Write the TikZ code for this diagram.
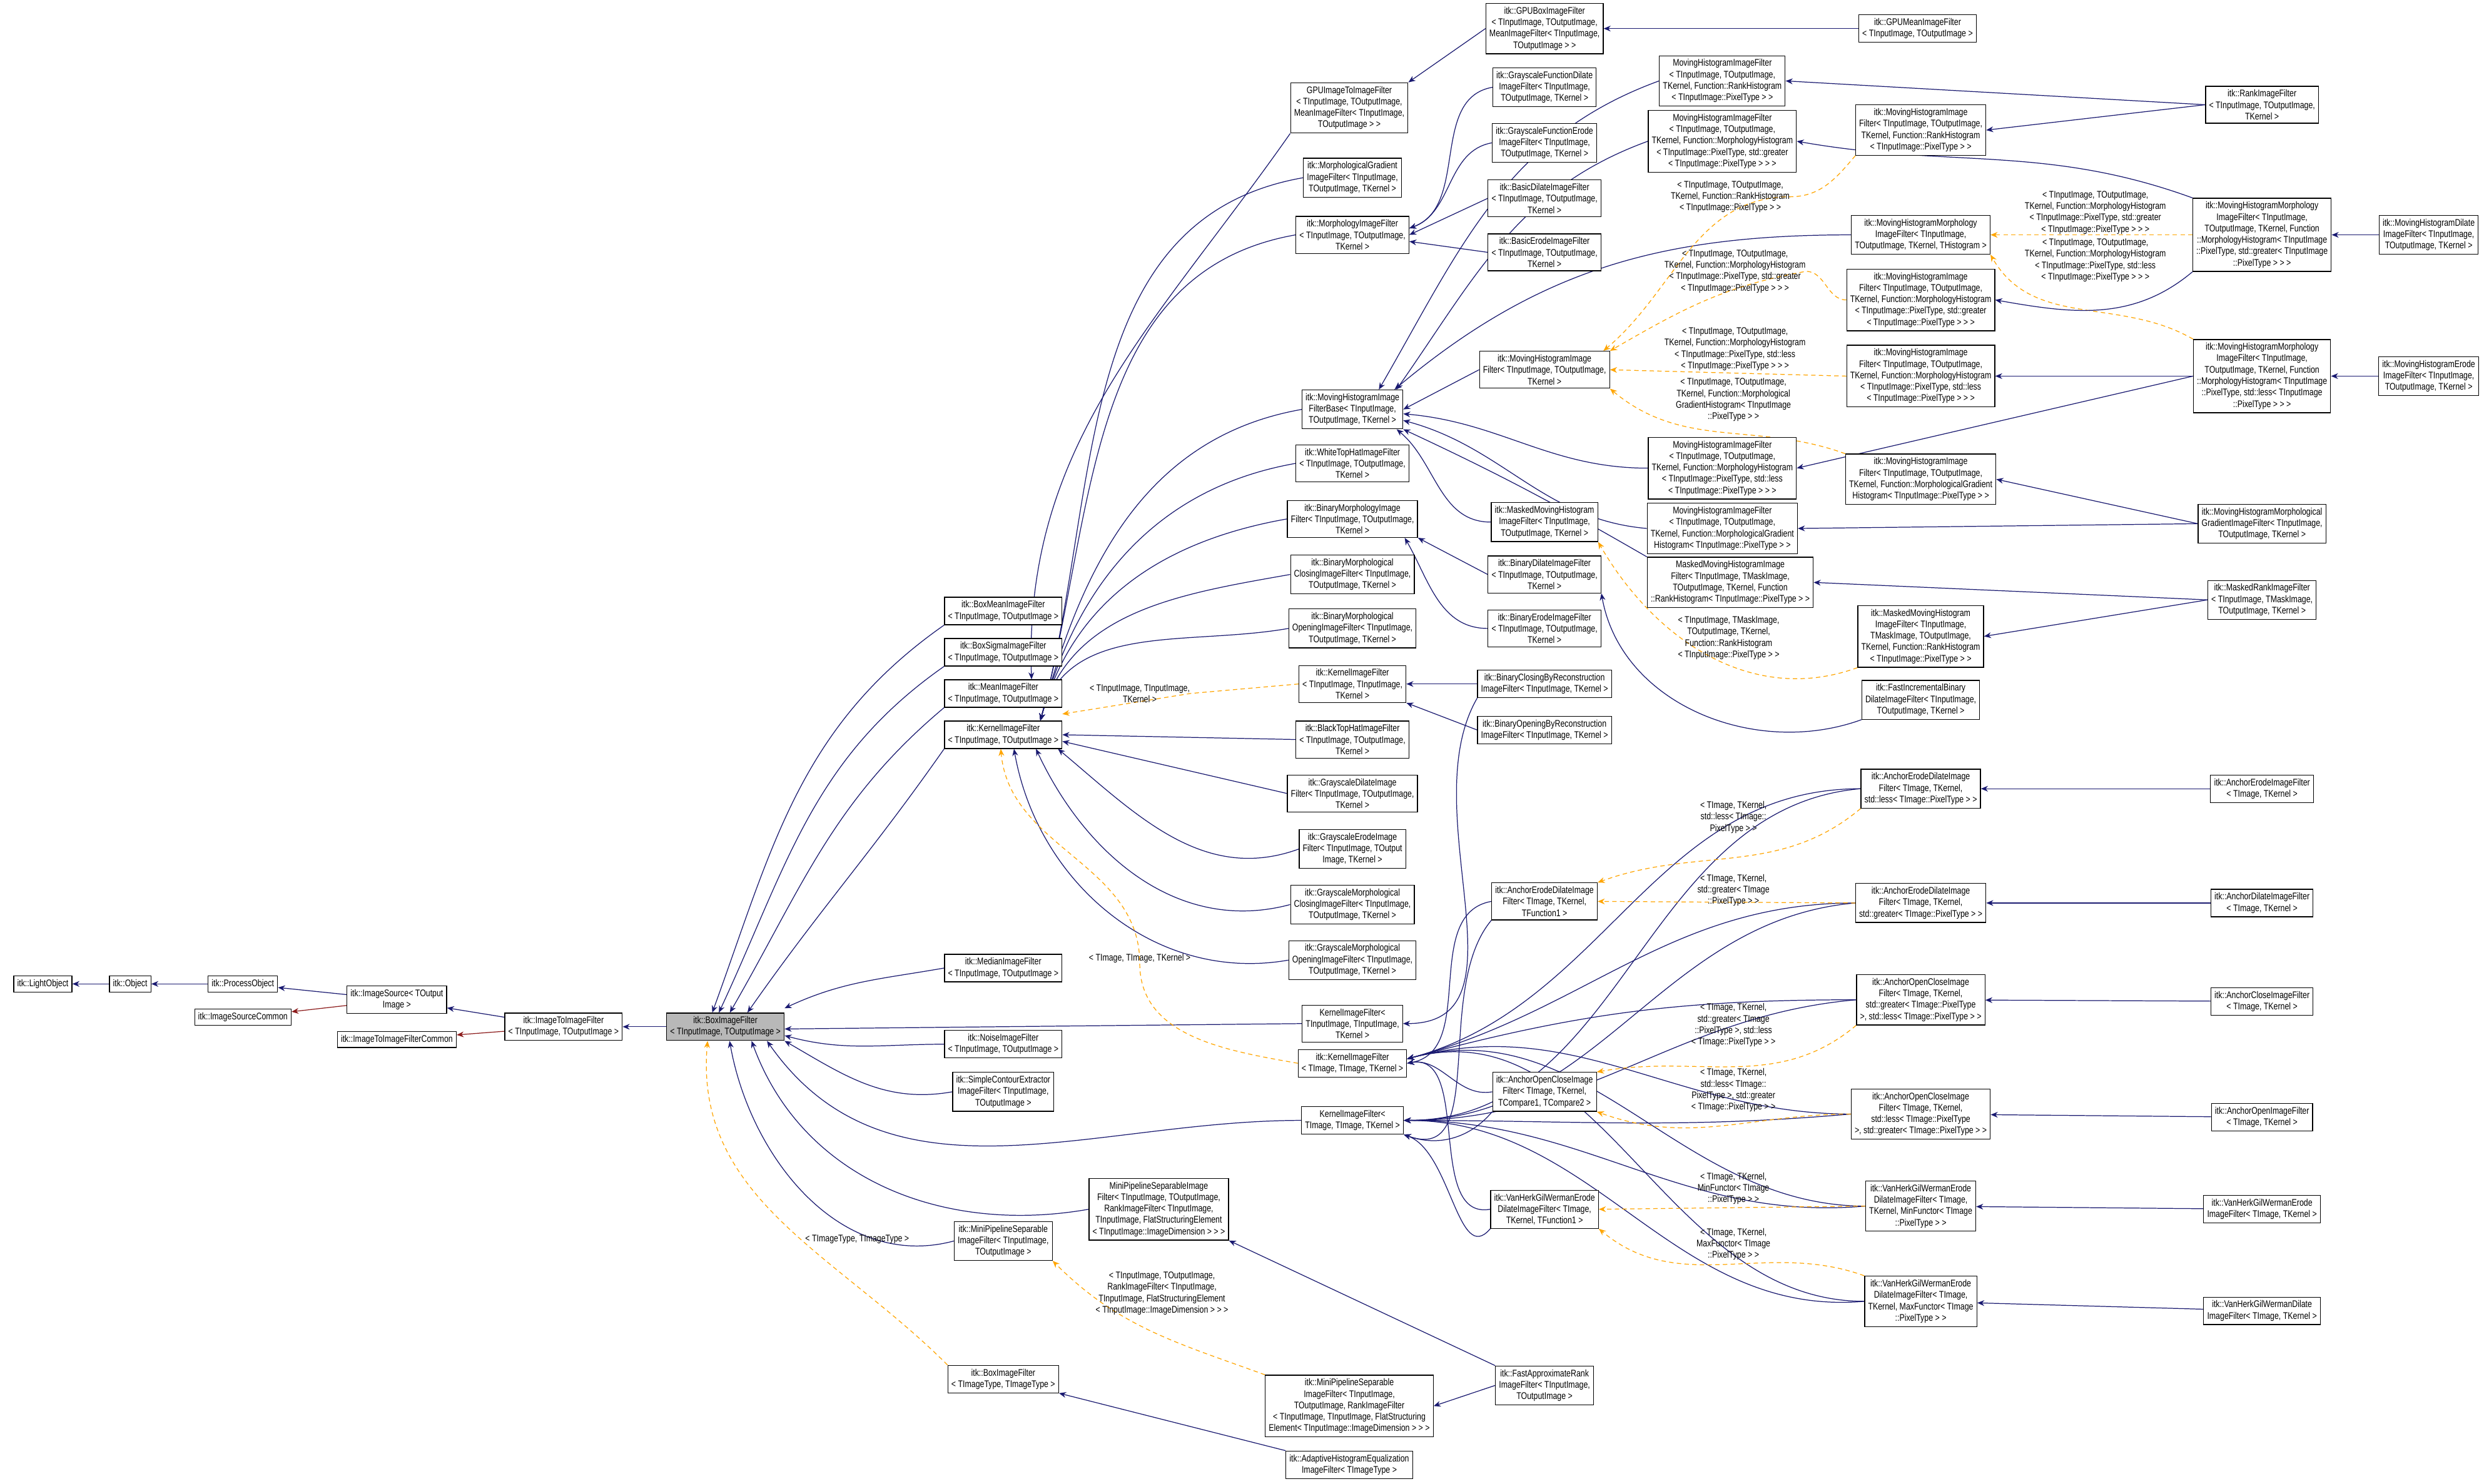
\documentclass[tikz,border=0pt]{standalone}
\usepackage{fontspec}
\setmainfont{Liberation Sans}[FakeStretch=0.8]
\usetikzlibrary{arrows.meta}
\definecolor{navy}{HTML}{191970}
\definecolor{torange}{HTML}{FFA500}
\definecolor{dred}{HTML}{8B1A1A}
\pgfdeclarelayer{bg}
\pgfsetlayers{bg,main}
\tikzset{
 bx/.style={draw=black,fill=white,line width=0.35pt,align=center,inner sep=1.6pt,font=\fontsize{4.4}{5.2}\selectfont},
 gbx/.style={bx,fill=black!28},
 lb/.style={align=center,inner sep=0pt,font=\fontsize{4.4}{5.2}\selectfont},
 ed/.style={navy,line width=0.35pt,-{Stealth[length=3.2pt,width=2.6pt]}},
 rd/.style={dred,line width=0.35pt,-{Stealth[length=3.2pt,width=2.6pt]}},
 tp/.style={torange,line width=0.35pt,dashed,dash pattern=on 2pt off 1.5pt,-{Stealth[length=3.2pt,width=2.6pt]}},
}
\begin{document}
\begin{tikzpicture}[x=0.25376mm,y=-0.25376mm]
\begin{pgfonlayer}{bg}
\fill[white] (0,0) rectangle (1568,935);
\end{pgfonlayer}
\useasboundingbox (0,0) rectangle (1568,935);
% left chain
\node[bx] (lo) at (27,620) {itk::LightObject};
\node[bx] (ob) at (82,620) {itk::Object};
\node[bx] (po) at (153,620) {itk::ProcessObject};
\node[bx] (isc) at (153,641) {itk::ImageSourceCommon};
\node[bx] (is) at (250,630) {itk::ImageSource< TOutput\\Image >};
\node[bx] (itic) at (250,655) {itk::ImageToImageFilterCommon};
\node[bx] (iti) at (355,647) {itk::ImageToImageFilter\\< TInputImage, TOutputImage >};
\node[gbx] (box) at (457,647) {itk::BoxImageFilter\\< TInputImage, TOutputImage >};
% column C
\node[bx] (bmean) at (632,385) {itk::BoxMeanImageFilter\\< TInputImage, TOutputImage >};
\node[bx] (bsig) at (632,411) {itk::BoxSigmaImageFilter\\< TInputImage, TOutputImage >};
\node[bx] (mean) at (632,437) {itk::MeanImageFilter\\< TInputImage, TOutputImage >};
\node[bx] (kif) at (632,463) {itk::KernelImageFilter\\< TInputImage, TOutputImage >};
\node[bx] (med) at (632,610) {itk::MedianImageFilter\\< TInputImage, TOutputImage >};
\node[bx] (noise) at (632,658) {itk::NoiseImageFilter\\< TInputImage, TOutputImage >};
\node[bx] (sce) at (632,688) {itk::SimpleContourExtractor\\ImageFilter< TInputImage,\\TOutputImage >};
\node[bx] (mps) at (632,782) {itk::MiniPipelineSeparable\\ImageFilter< TInputImage,\\TOutputImage >};
\node[bx] (bxt) at (632,869) {itk::BoxImageFilter\\< TImageType, TImageType >};
% column D
\node[bx] (gpuiti) at (850,68) {GPUImageToImageFilter\\< TInputImage, TOutputImage,\\MeanImageFilter< TInputImage,\\TOutputImage > >};
\node[bx] (mgrad) at (852,112) {itk::MorphologicalGradient\\ImageFilter< TInputImage,\\TOutputImage, TKernel >};
\node[bx] (morph) at (852,148) {itk::MorphologyImageFilter\\< TInputImage, TOutputImage,\\TKernel >};
\node[bx] (mhb) at (852,258) {itk::MovingHistogramImage\\FilterBase< TInputImage,\\TOutputImage, TKernel >};
\node[bx] (wth) at (852,292) {itk::WhiteTopHatImageFilter\\< TInputImage, TOutputImage,\\TKernel >};
\node[bx] (bmi) at (852,327) {itk::BinaryMorphologyImage\\Filter< TInputImage, TOutputImage,\\TKernel >};
\node[bx] (bmc) at (852,362) {itk::BinaryMorphological\\ClosingImageFilter< TInputImage,\\TOutputImage, TKernel >};
\node[bx] (bmo) at (852,396) {itk::BinaryMorphological\\OpeningImageFilter< TInputImage,\\TOutputImage, TKernel >};
\node[bx] (kii) at (852,431) {itk::KernelImageFilter\\< TInputImage, TInputImage,\\TKernel >};
\node[bx] (bth) at (852,466) {itk::BlackTopHatImageFilter\\< TInputImage, TOutputImage,\\TKernel >};
\node[bx] (gdil) at (852,500) {itk::GrayscaleDilateImage\\Filter< TInputImage, TOutputImage,\\TKernel >};
\node[bx] (gero) at (852,535) {itk::GrayscaleErodeImage\\Filter< TInputImage, TOutput\\Image, TKernel >};
\node[bx] (gmc) at (852,570) {itk::GrayscaleMorphological\\ClosingImageFilter< TInputImage,\\TOutputImage, TKernel >};
\node[bx] (gmo) at (852,605) {itk::GrayscaleMorphological\\OpeningImageFilter< TInputImage,\\TOutputImage, TKernel >};
\node[bx] (kiin) at (852,645) {KernelImageFilter<\\TInputImage, TInputImage,\\TKernel >};
\node[bx] (kit) at (852,670) {itk::KernelImageFilter\\< TImage, TImage, TKernel >};
\node[bx] (kitn) at (852,706) {KernelImageFilter<\\TImage, TImage, TKernel >};
\node[bx] (mpsi) at (730,762) {MiniPipelineSeparableImage\\Filter< TInputImage, TOutputImage,\\RankImageFilter< TInputImage,\\TInputImage, FlatStructuringElement\\< TInputImage::ImageDimension > > >};
\node[bx] (mpsr) at (850,886) {itk::MiniPipelineSeparable\\ImageFilter< TInputImage,\\TOutputImage, RankImageFilter\\< TInputImage, TInputImage, FlatStructuring\\Element< TInputImage::ImageDimension > > >};
\node[bx] (ahe) at (850,923) {itk::AdaptiveHistogramEqualization\\ImageFilter< TImageType >};
% column E
\node[bx] (gpubox) at (973,18) {itk::GPUBoxImageFilter\\< TInputImage, TOutputImage,\\MeanImageFilter< TInputImage,\\TOutputImage > >};
\node[bx] (gfd) at (973,55) {itk::GrayscaleFunctionDilate\\ImageFilter< TInputImage,\\TOutputImage, TKernel >};
\node[bx] (gfe) at (973,90) {itk::GrayscaleFunctionErode\\ImageFilter< TInputImage,\\TOutputImage, TKernel >};
\node[bx] (bdil) at (973,125) {itk::BasicDilateImageFilter\\< TInputImage, TOutputImage,\\TKernel >};
\node[bx] (bero) at (973,159) {itk::BasicErodeImageFilter\\< TInputImage, TOutputImage,\\TKernel >};
\node[bx] (mhif) at (973,233) {itk::MovingHistogramImage\\Filter< TInputImage, TOutputImage,\\TKernel >};
\node[bx] (mmh) at (973,329) {itk::MaskedMovingHistogram\\ImageFilter< TInputImage,\\TOutputImage, TKernel >};
\node[bx] (bdi) at (973,362) {itk::BinaryDilateImageFilter\\< TInputImage, TOutputImage,\\TKernel >};
\node[bx] (ber) at (973,396) {itk::BinaryErodeImageFilter\\< TInputImage, TOutputImage,\\TKernel >};
\node[bx] (bcr) at (973,431) {itk::BinaryClosingByReconstruction\\ImageFilter< TInputImage, TKernel >};
\node[bx] (bor) at (973,460) {itk::BinaryOpeningByReconstruction\\ImageFilter< TInputImage, TKernel >};
\node[bx] (aed) at (973,568) {itk::AnchorErodeDilateImage\\Filter< TImage, TKernel,\\TFunction1 >};
\node[bx] (aoc) at (973,688) {itk::AnchorOpenCloseImage\\Filter< TImage, TKernel,\\TCompare1, TCompare2 >};
\node[bx] (vhg) at (973,762) {itk::VanHerkGilWermanErode\\DilateImageFilter< TImage,\\TKernel, TFunction1 >};
\node[bx] (far) at (973,873) {itk::FastApproximateRank\\ImageFilter< TInputImage,\\TOutputImage >};
% column F
\node[bx] (frank) at (1085,51) {MovingHistogramImageFilter\\< TInputImage, TOutputImage,\\TKernel, Function::RankHistogram\\< TInputImage::PixelType > >};
\node[bx] (fgr) at (1085,89) {MovingHistogramImageFilter\\< TInputImage, TOutputImage,\\TKernel, Function::MorphologyHistogram\\< TInputImage::PixelType, std::greater\\< TInputImage::PixelType > > >};
\node[bx] (fle) at (1085,295) {MovingHistogramImageFilter\\< TInputImage, TOutputImage,\\TKernel, Function::MorphologyHistogram\\< TInputImage::PixelType, std::less\\< TInputImage::PixelType > > >};
\node[bx] (fmg) at (1085,333) {MovingHistogramImageFilter\\< TInputImage, TOutputImage,\\TKernel, Function::MorphologicalGradient\\Histogram< TInputImage::PixelType > >};
\node[bx] (fmm) at (1090,367) {MaskedMovingHistogramImage\\Filter< TInputImage, TMaskImage,\\TOutputImage, TKernel, Function\\::RankHistogram< TInputImage::PixelType > >};
% column G
\node[bx] (grank) at (1210,82) {itk::MovingHistogramImage\\Filter< TInputImage, TOutputImage,\\TKernel, Function::RankHistogram\\< TInputImage::PixelType > >};
\node[bx] (gth) at (1210,148) {itk::MovingHistogramMorphology\\ImageFilter< TInputImage,\\TOutputImage, TKernel, THistogram >};
\node[bx] (ggr) at (1210,189) {itk::MovingHistogramImage\\Filter< TInputImage, TOutputImage,\\TKernel, Function::MorphologyHistogram\\< TInputImage::PixelType, std::greater\\< TInputImage::PixelType > > >};
\node[bx] (gle) at (1210,237) {itk::MovingHistogramImage\\Filter< TInputImage, TOutputImage,\\TKernel, Function::MorphologyHistogram\\< TInputImage::PixelType, std::less\\< TInputImage::PixelType > > >};
\node[bx] (gmg) at (1210,302) {itk::MovingHistogramImage\\Filter< TInputImage, TOutputImage,\\TKernel, Function::MorphologicalGradient\\Histogram< TInputImage::PixelType > >};
\node[bx] (gmm) at (1210,401) {itk::MaskedMovingHistogram\\ImageFilter< TInputImage,\\TMaskImage, TOutputImage,\\TKernel, Function::RankHistogram\\< TInputImage::PixelType > >};
\node[bx] (fib) at (1210,441) {itk::FastIncrementalBinary\\DilateImageFilter< TInputImage,\\TOutputImage, TKernel >};
\node[bx] (gael) at (1210,497) {itk::AnchorErodeDilateImage\\Filter< TImage, TKernel,\\std::less< TImage::PixelType > >};
\node[bx] (gaeg) at (1210,569) {itk::AnchorErodeDilateImage\\Filter< TImage, TKernel,\\std::greater< TImage::PixelType > >};
\node[bx] (gaogl) at (1210,630) {itk::AnchorOpenCloseImage\\Filter< TImage, TKernel,\\std::greater< TImage::PixelType\\>, std::less< TImage::PixelType > >};
\node[bx] (gaolg) at (1210,702) {itk::AnchorOpenCloseImage\\Filter< TImage, TKernel,\\std::less< TImage::PixelType\\>, std::greater< TImage::PixelType > >};
\node[bx] (gvmin) at (1210,760) {itk::VanHerkGilWermanErode\\DilateImageFilter< TImage,\\TKernel, MinFunctor< TImage\\::PixelType > >};
\node[bx] (gvmax) at (1210,820) {itk::VanHerkGilWermanErode\\DilateImageFilter< TImage,\\TKernel, MaxFunctor< TImage\\::PixelType > >};
% column H
\node[bx] (gpumean) at (1208,18) {itk::GPUMeanImageFilter\\< TInputImage, TOutputImage >};
\node[bx] (rank) at (1425,66) {itk::RankImageFilter\\< TInputImage, TOutputImage,\\TKernel >};
\node[bx] (hgr) at (1425,148) {itk::MovingHistogramMorphology\\ImageFilter< TInputImage,\\TOutputImage, TKernel, Function\\::MorphologyHistogram< TInputImage\\::PixelType, std::greater< TInputImage\\::PixelType > > >};
\node[bx] (hle) at (1425,237) {itk::MovingHistogramMorphology\\ImageFilter< TInputImage,\\TOutputImage, TKernel, Function\\::MorphologyHistogram< TInputImage\\::PixelType, std::less< TInputImage\\::PixelType > > >};
\node[bx] (hmg) at (1425,330) {itk::MovingHistogramMorphological\\GradientImageFilter< TInputImage,\\TOutputImage, TKernel >};
\node[bx] (mrank) at (1425,378) {itk::MaskedRankImageFilter\\< TInputImage, TMaskImage,\\TOutputImage, TKernel >};
\node[bx] (aero) at (1425,497) {itk::AnchorErodeImageFilter\\< TImage, TKernel >};
\node[bx] (adil) at (1425,569) {itk::AnchorDilateImageFilter\\< TImage, TKernel >};
\node[bx] (aclo) at (1425,631) {itk::AnchorCloseImageFilter\\< TImage, TKernel >};
\node[bx] (aope) at (1425,704) {itk::AnchorOpenImageFilter\\< TImage, TKernel >};
\node[bx] (vero) at (1425,762) {itk::VanHerkGilWermanErode\\ImageFilter< TImage, TKernel >};
\node[bx] (vdil) at (1425,826) {itk::VanHerkGilWermanDilate\\ImageFilter< TImage, TKernel >};
\node[bx] (mhd) at (1530,148) {itk::MovingHistogramDilate\\ImageFilter< TInputImage,\\TOutputImage, TKernel >};
\node[bx] (mhe) at (1530,237) {itk::MovingHistogramErode\\ImageFilter< TInputImage,\\TOutputImage, TKernel >};
% labels
\node[lb] (l1) at (718,437) {< TInputImage, TInputImage,\\TKernel >};
\node[lb] (l2) at (718,604) {< TImage, TImage, TKernel >};
\node[lb] (l3) at (540,781) {< TImageType, TImageType >};
\node[lb] (l4) at (732,815) {< TInputImage, TOutputImage,\\RankImageFilter< TInputImage,\\TInputImage, FlatStructuringElement\\< TInputImage::ImageDimension > > >};
\node[lb] (l5) at (1090,124) {< TInputImage, TOutputImage,\\TKernel, Function::RankHistogram\\< TInputImage::PixelType > >};
\node[lb] (l6) at (1093,171) {< TInputImage, TOutputImage,\\TKernel, Function::MorphologyHistogram\\< TInputImage::PixelType, std::greater\\< TInputImage::PixelType > > >};
\node[lb] (l7) at (1093,220) {< TInputImage, TOutputImage,\\TKernel, Function::MorphologyHistogram\\< TInputImage::PixelType, std::less\\< TInputImage::PixelType > > >};
\node[lb] (l8) at (1092,252) {< TInputImage, TOutputImage,\\TKernel, Function::Morphological\\GradientHistogram< TInputImage\\::PixelType > >};
\node[lb] (l9) at (1320,134) {< TInputImage, TOutputImage,\\TKernel, Function::MorphologyHistogram\\< TInputImage::PixelType, std::greater\\< TInputImage::PixelType > > >};
\node[lb] (l10) at (1320,164) {< TInputImage, TOutputImage,\\TKernel, Function::MorphologyHistogram\\< TInputImage::PixelType, std::less\\< TInputImage::PixelType > > >};
\node[lb] (l11) at (1089,402) {< TInputImage, TMaskImage,\\TOutputImage, TKernel,\\Function::RankHistogram\\< TInputImage::PixelType > >};
\node[lb] (l12) at (1092,515) {< TImage, TKernel,\\std::less< TImage::\\PixelType > >};
\node[lb] (l13) at (1092,561) {< TImage, TKernel,\\std::greater< TImage\\::PixelType > >};
\node[lb] (l14) at (1092,646) {< TImage, TKernel,\\std::greater< TImage\\::PixelType >, std::less\\< TImage::PixelType > >};
\node[lb] (l15) at (1092,687) {< TImage, TKernel,\\std::less< TImage::\\PixelType >, std::greater\\< TImage::PixelType > >};
\node[lb] (l16) at (1092,749) {< TImage, TKernel,\\MinFunctor< TImage\\::PixelType > >};
\node[lb] (l17) at (1092,784) {< TImage, TKernel,\\MaxFunctor< TImage\\::PixelType > >};
\begin{pgfonlayer}{bg}
% edges left chain
\draw[ed] (ob) -- (lo);
\draw[ed] (po) -- (ob);
\draw[ed] (is) -- (po);
\draw[rd] (is) -- (isc);
\draw[ed] (iti) -- (is);
\draw[rd] (iti) -- (itic);
\draw[ed] (box) -- (iti);
% into BoxImageFilter
\draw[ed] (bmean.south west) to[out=215,in=70] ([xshift=-6]box.north);
\draw[ed] (bsig.south west) to[out=215,in=65] ([xshift=-3]box.north);
\draw[ed] (mean.south west) to[out=220,in=60] ([xshift=2]box.north);
\draw[ed] (kif.south west) to[out=235,in=55] ([xshift=10]box.north);
\draw[ed] (med.west) to[out=190,in=25] ([yshift=2]box.north east);
\draw[ed] (kiin.west) -- ([yshift=-1]box.east);
\draw[ed] (noise.west) to[out=180,in=-15] ([yshift=-4]box.east);
\draw[ed] (sce.west) to[out=190,in=-30] (box.south east);
\draw[ed] (kitn.west) to[out=180,in=-55] ([xshift=-8]box.south east);
\draw[ed] (mpsi.west) to[out=190,in=-70] ([xshift=-15]box.south east);
\draw[ed] (mps.west) to[out=195,in=-80] ([xshift=-25]box.south east);
\draw[tp] (bxt.north west) to[out=135,in=-95] ([xshift=-35]box.south east);
\draw[ed] (gpuiti.south west) to[out=235,in=92] ([xshift=-14]mean.north east);
% into KernelImageFilter(TIn,TOut)
\foreach \n in {mgrad,morph,mhb,wth,bmi,bmc,bmo}{
 \draw[ed] (\n.west) to[out=190,in=75] ([xshift=-10]kif.north east);}
\draw[ed] (bth.west) -- (kif.east);
\draw[ed] (gdil.west) -- ([yshift=-3]kif.east);
\draw[ed] (gero.west) to[out=200,in=-40] ([xshift=-2]kif.south east);
\draw[ed] (gmc.west) to[out=195,in=-65] ([xshift=-12]kif.south east);
\draw[ed] (gmo.west) to[out=190,in=-80] ([xshift=-22]kif.south east);
\draw[tp] (kii.west) -- (l1.east) -- ([yshift=3]kif.north east);
\draw[tp] (kit.west) to[out=170,in=-90] (l2.south) to[out=90,in=-85] ([xshift=-28]kif.south east);
% GPU
\draw[ed] (gpubox.west) -- (gpuiti.north east);
\draw[ed] (gpumean) -- (gpubox);
% morphology
\foreach \n in {gfd,gfe}{\draw[ed] (\n.west) to[out=190,in=20] ([yshift=3]morph.east);}
\draw[ed] (bdil.west) -- (morph.east);
\draw[ed] (bero.west) -- ([yshift=-3]morph.east);
% moving histogram base
\draw[ed] (mhif.west) -- (mhb.east);
\draw[ed] (frank.west) to[out=200,in=60] ([xshift=12]mhb.north);
\draw[ed] (fgr.west) to[out=200,in=55] ([xshift=20]mhb.north);
\draw[ed] (gth.west) to[out=180,in=40] ([xshift=-4]mhb.north east);
\draw[ed] (fle.west) to[out=180,in=-5] ([yshift=-2]mhb.east);
\draw[ed] (fmg.west) to[out=175,in=-15] ([yshift=-5]mhb.east);
\draw[ed] (fmm.north west) to[out=150,in=-25] (mhb.south east);
\draw[ed] (mmh.west) to[out=180,in=-40] ([xshift=-3]mhb.south east);
% templated into mhif
\draw[tp] (grank.south west) to[out=230,in=0] (l5.east) to[out=180,in=40] ([xshift=-3]mhif.north east);
\draw[tp] (ggr.west) to[out=180,in=0] (l6.east) to[out=190,in=30] (mhif.north east);
\draw[tp] (gle.west) -- (mhif.east);
\draw[tp] (gmg.north west) to[out=160,in=-40] (mhif.south east);
\draw[tp] (hgr.west) -- (gth.east);
\draw[tp] (hle.north west) to[out=150,in=-60] (gth.south east);
% rank etc
\draw[ed] (rank.west) -- (frank.east);
\draw[ed] (rank.west) -- (grank.east);
\draw[ed] (hgr.north west) to[out=160,in=-10] (fgr.east);
\draw[ed] (hgr.south west) to[out=220,in=-10] (ggr.east);
\draw[ed] (mhd) -- (hgr);
\draw[ed] (mhe) -- (hle);
\draw[ed] (hle.west) -- (gle.east);
\draw[ed] (hle.west) -- (fle.east);
\draw[ed] (hmg.west) -- (gmg.east);
\draw[ed] (hmg.west) -- (fmg.east);
\draw[ed] (mrank.west) -- (fmm.east);
\draw[ed] (mrank.west) -- (gmm.east);
\draw[tp] (gmm.south west) to[out=200,in=-60] (mmh.south east);
% binary
\draw[ed] (bdi.west) -- (bmi.south east);
\draw[ed] (ber.west) to[out=180,in=-60] ([xshift=-6]bmi.south east);
\draw[ed] (fib.south west) to[out=200,in=-80] (bdi.south east);
\draw[ed] (bcr.west) -- (kii.east);
\draw[ed] (bor.west) -- (kii.south east);
\draw[ed] (bcr.south west) to[out=240,in=0] (kiin.east);
% anchor & van herk
\foreach \n in {aed,aoc,vhg}{\draw[ed] (\n.west) to[out=190,in=10] (kit.east);}
\foreach \n in {gael,gaeg,gaogl,gaolg,gvmin,gvmax}{
 \draw[ed] (\n.west) to[out=180,in=15] ([yshift=2]kit.east);
 \draw[ed] (\n.west) to[out=185,in=0] (kitn.east);}
\foreach \n in {aed,aoc,vhg}{\draw[ed] (\n.south west) to[out=230,in=-20] (kitn.south east);}
\draw[tp] (gael.south west) to[out=220,in=20] (aed.north east);
\draw[tp] (gaeg.west) -- (aed.east);
\draw[tp] (gaogl.south west) to[out=220,in=10] (aoc.north east);
\draw[tp] (gaolg.west) to[out=180,in=-20] (aoc.south east);
\draw[tp] (gvmin.west) -- (vhg.east);
\draw[tp] (gvmax.north west) to[out=160,in=-40] (vhg.south east);
\draw[ed] (aero) -- (gael);
\draw[ed] (adil) -- (gaeg);
\draw[ed] (aclo) -- (gaogl);
\draw[ed] (aope) -- (gaolg);
\draw[ed] (vero) -- (gvmin);
\draw[ed] (vdil) -- (gvmax);
% mini pipeline
\draw[tp] (mpsr.north west) to[out=160,in=-45] (mps.south east);
\draw[ed] (far.north west) -- (mpsi.south east);
\draw[ed] (far.west) -- (mpsr.east);
\draw[ed] (ahe.north west) -- (bxt.south east);
\end{pgfonlayer}
\end{tikzpicture}
\end{document}
